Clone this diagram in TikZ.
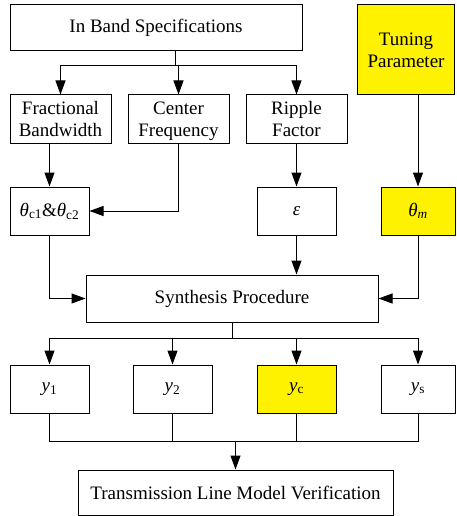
\documentclass[tikz,border=0pt]{standalone}
\usepackage{fontspec}
\setmainfont{Liberation Serif}
\usetikzlibrary{arrows.meta}
\tikzset{
    blk/.style={draw, line width=1pt, inner sep=0pt, align=center,
        font=\fontsize{19}{22}\selectfont},
    hl/.style={fill=yellow},
    arr/.style={-{Triangle[length=14pt,width=10pt]}},
}
\begin{document}
\begin{tikzpicture}[x=1pt, y=-1pt, line width=1pt]
        \useasboundingbox (0, 0) rectangle (456, 516);
        % first row
        \node[blk, minimum width=292, minimum height=46] (spec) at (156, 28) {In Band Specifications};
        \node[blk, hl, minimum width=97, minimum height=90] (tune) at (406, 50) {Tuning\\Parameter};
        \node[blk, minimum width=101, minimum height=48] (frac) at (60.5, 119) {Fractional\\Bandwidth};
        \node[blk, minimum width=101, minimum height=48] (cent) at (178.5, 119) {Center\\\smash{Frequency}};
        \node[blk, minimum width=101, minimum height=48] (ripp) at (296.5, 119) {Ripple\\Factor};

        % parameters
        \node[blk, minimum width=79, minimum height=48] (theta) at (49.5, 211) {\textit{θ}\textsubscript{c1}\&\textit{θ}\textsubscript{c2}};
        \node[blk, minimum width=79, minimum height=48] (eps) at (296.5, 211) {\textit{ε}};
        \node[blk, hl, minimum width=74, minimum height=48] (thm) at (418, 211) {\textit{θ\textsubscript{m}}};

        \node[blk, minimum width=292, minimum height=47] (synth) at (232, 298.5) {Synthesis Procedure};

        % admittances
        \node[blk, minimum width=79, minimum height=48] (y1) at (49.5, 389) {\textit{y}\textsubscript{1}};
        \node[blk, minimum width=79, minimum height=48] (y2) at (172.5, 389) {\textit{y}\textsubscript{2}};
        \node[blk, hl, minimum width=79, minimum height=48] (yc) at (296.5, 389) {\textit{y}\textsubscript{c}};
        \node[blk, minimum width=74, minimum height=48] (ys) at (418, 389) {\textit{y}\textsubscript{s}};

        \node[blk, minimum width=315, minimum height=45] (tlmv) at (235.5, 492.5) {Transmission Line Model Verification};

        % connectors
        \coordinate (br) at (175, 66);
        \draw (spec.south -| br) -- (br);
        \draw[arr] (br) -| (frac.north);
        \draw[arr] (br) -| (cent.north);
        \draw[arr] (br) -| (ripp.north);
        \draw[arr] (frac.south -| theta) -- (theta.north);
        \draw[arr] (cent.south) |- (theta.east);
        \draw[arr] (ripp.south) -- (eps.north);
        \draw[arr] (thm.north |- tune.south) -- (thm.north);
        \draw[arr] (theta.south) |- (synth.west);
        \draw[arr] (eps.south) -- (eps.south |- synth.north);
        \draw[arr] (thm.south) |- (synth.east);

        \coordinate (sb) at (232, 338);
        \draw (synth.south) -- (sb);
        \foreach \n in {y1, y2, yc, ys}
            \draw[arr] (sb) -| (\n.north);
        \coordinate (mb) at (235.5, 441);
        \foreach \n in {y1, y2, yc, ys}
            \draw (\n.south) |- (mb);
        \draw[arr] (mb) -- (tlmv.north);
    \end{tikzpicture}
\end{document}
